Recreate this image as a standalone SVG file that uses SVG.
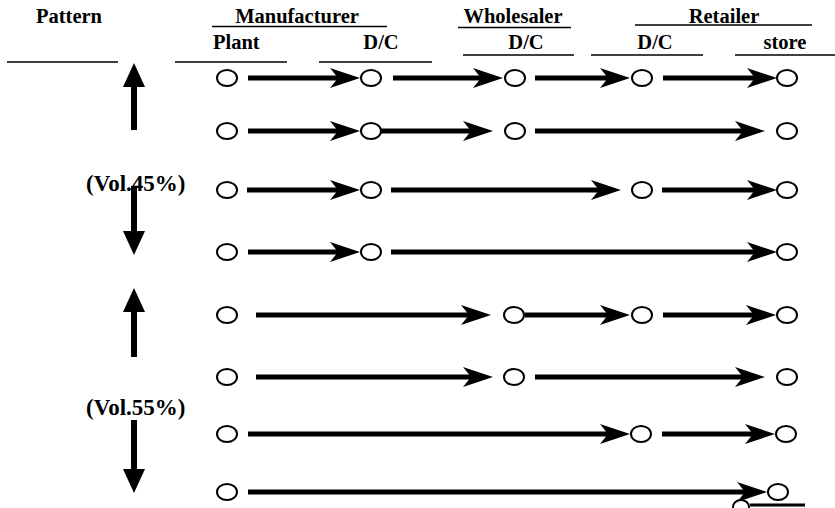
<svg xmlns="http://www.w3.org/2000/svg" width="835" height="508" viewBox="0 0 835 508">
<style>
text{font-family:"Liberation Serif","Times New Roman",serif;font-weight:bold;font-size:20.5px;fill:#000}
.volt{font-size:23px}
.rule{stroke:#000;stroke-width:1.5}
.flow{stroke:#000;stroke-width:5;fill:none;marker-end:url(#ah)}
.vol{stroke:#000;stroke-width:6;fill:none;marker-end:url(#big)}
.node ellipse{fill:#fff;stroke:#000;stroke-width:2}
</style>
<defs>
<marker id="ah" markerUnits="userSpaceOnUse" viewBox="0 0 30 20" markerWidth="30" markerHeight="20" refX="10" refY="10" orient="auto">
<path d="M0,0 L30,10 L0,20 L8,10 Z" fill="#000"/>
</marker>
<marker id="big" markerUnits="userSpaceOnUse" viewBox="0 0 24 22" markerWidth="24" markerHeight="22" refX="4" refY="11" orient="auto">
<path d="M0,0 L24,11 L0,22 Z" fill="#000"/>
</marker>
</defs>
<rect width="835" height="508" fill="#fff"/>
<g id="header">
<text x="36" y="23">Pattern</text>
<text x="297" y="23" text-anchor="middle">Manufacturer</text>
<text x="513" y="23" text-anchor="middle">Wholesaler</text>
<text x="724" y="23" text-anchor="middle">Retailer</text>
<text x="213" y="49">Plant</text>
<text x="381" y="49" text-anchor="middle">D/C</text>
<text x="526" y="49" text-anchor="middle">D/C</text>
<text x="655" y="49" text-anchor="middle">D/C</text>
<text x="785" y="49" text-anchor="middle">store</text>
<line class="rule" x1="212" y1="26.5" x2="387" y2="26.5"/>
<line class="rule" x1="458" y1="27.5" x2="571" y2="27.5"/>
<line class="rule" x1="635" y1="25" x2="812" y2="25"/>
<line class="rule" x1="7" y1="62" x2="118" y2="62"/>
<line class="rule" x1="175" y1="62" x2="287" y2="62"/>
<line class="rule" x1="319" y1="62" x2="432" y2="62"/>
<line class="rule" x1="463" y1="55" x2="574" y2="55"/>
<line class="rule" x1="591" y1="55" x2="703" y2="55"/>
<line class="rule" x1="735" y1="55" x2="835" y2="55"/>
</g>
<g id="volume">
<text class="volt" x="86" y="191">(Vol.45%)</text>
<text class="volt" x="86" y="415">(Vol.55%)</text>
<line class="vol" x1="134" y1="130" x2="134" y2="83"/>
<line class="vol" x1="134" y1="186" x2="134" y2="235"/>
<line class="vol" x1="134" y1="357" x2="134" y2="308"/>
<line class="vol" x1="134" y1="420" x2="134" y2="473"/>
</g>
<g id="connectors">
<line class="flow" x1="248" y1="78" x2="340" y2="78"/>
<line class="flow" x1="393" y1="78" x2="483" y2="78"/>
<line class="flow" x1="535" y1="78" x2="610" y2="78"/>
<line class="flow" x1="663" y1="78" x2="757" y2="78"/>

<line class="flow" x1="248" y1="131" x2="340" y2="131"/>
<line class="flow" x1="380" y1="131" x2="473" y2="131"/>
<line class="flow" x1="535" y1="131" x2="745" y2="131"/>

<line class="flow" x1="247" y1="190" x2="340" y2="190"/>
<line class="flow" x1="391" y1="190" x2="601" y2="190"/>
<line class="flow" x1="662" y1="190" x2="757" y2="190"/>

<line class="flow" x1="248" y1="252" x2="340" y2="252"/>
<line class="flow" x1="391" y1="252" x2="757" y2="252"/>

<line class="flow" x1="256" y1="315" x2="471" y2="315"/>
<line class="flow" x1="525" y1="315" x2="610" y2="315"/>
<line class="flow" x1="663" y1="315" x2="756" y2="315"/>

<line class="flow" x1="256" y1="377" x2="473" y2="377"/>
<line class="flow" x1="535" y1="377" x2="745" y2="377"/>

<line class="flow" x1="248" y1="434" x2="610" y2="434"/>
<line class="flow" x1="662" y1="434" x2="755" y2="434"/>

<line class="flow" x1="248" y1="492" x2="747" y2="492"/>
<line x1="750" y1="505" x2="805" y2="505" stroke="#000" stroke-width="3"/>
</g>
<g id="r1" class="node">
<ellipse cx="227" cy="78" rx="10" ry="8"/><ellipse cx="371" cy="78" rx="10" ry="8"/><ellipse cx="515" cy="78" rx="10" ry="8"/><ellipse cx="642" cy="78" rx="10" ry="8"/><ellipse cx="787" cy="78" rx="10" ry="8"/>
</g>
<g id="r2" class="node">
<ellipse cx="227" cy="131" rx="10" ry="8"/><ellipse cx="371" cy="131" rx="10" ry="8"/><ellipse cx="515" cy="131" rx="10" ry="8"/><ellipse cx="787" cy="131" rx="10" ry="8"/>
</g>
<g id="r3" class="node">
<ellipse cx="227" cy="190" rx="10" ry="8"/><ellipse cx="371" cy="190" rx="10" ry="8"/><ellipse cx="642" cy="190" rx="10" ry="8"/><ellipse cx="787" cy="190" rx="10" ry="8"/>
</g>
<g id="r4" class="node">
<ellipse cx="227" cy="252" rx="10" ry="8"/><ellipse cx="371" cy="252" rx="10" ry="8"/><ellipse cx="787" cy="252" rx="10" ry="8"/>
</g>
<g id="r5" class="node">
<ellipse cx="227" cy="315" rx="10" ry="8"/><ellipse cx="514" cy="315" rx="10" ry="8"/><ellipse cx="642" cy="315" rx="10" ry="8"/><ellipse cx="787" cy="315" rx="10" ry="8"/>
</g>
<g id="r6" class="node">
<ellipse cx="227" cy="377" rx="10" ry="8"/><ellipse cx="514" cy="377" rx="10" ry="8"/><ellipse cx="787" cy="377" rx="10" ry="8"/>
</g>
<g id="r7" class="node">
<ellipse cx="227" cy="434" rx="10" ry="8"/><ellipse cx="641" cy="434" rx="10" ry="8"/><ellipse cx="786" cy="434" rx="10" ry="8"/>
</g>
<g id="r8" class="node">
<ellipse cx="227" cy="492" rx="10" ry="8"/><ellipse cx="741" cy="507" rx="8" ry="7"/><ellipse cx="778" cy="492" rx="10" ry="8"/>
</g>
</svg>
